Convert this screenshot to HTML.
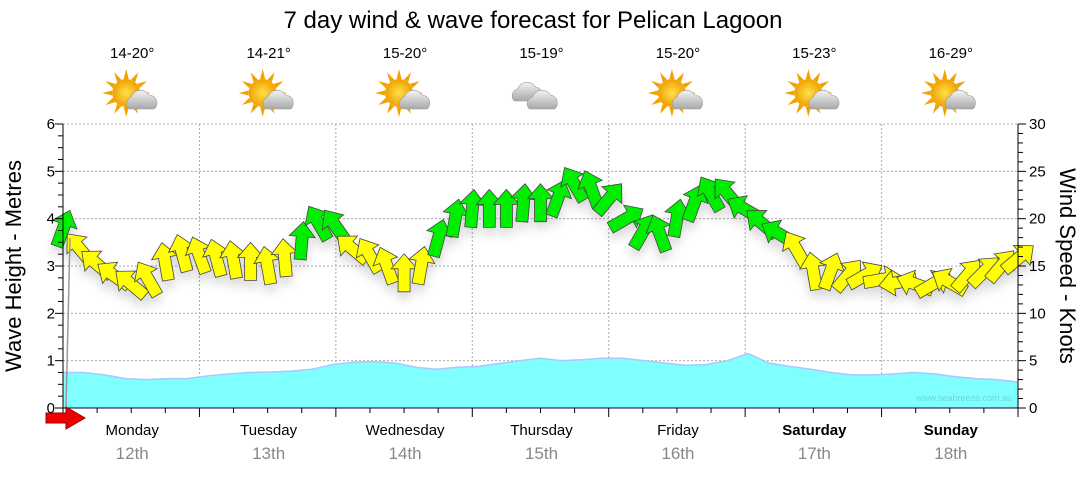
<!DOCTYPE html>
<html><head><meta charset="utf-8">
<style>
body{margin:0;background:#fff;font-family:"Liberation Sans",sans-serif;}
svg text{font-family:"Liberation Sans",sans-serif;}
</style></head><body>
<svg id="c" width="1080" height="475">
<defs>
<filter id="sh" x="-20%" y="-20%" width="140%" height="160%"><feDropShadow dx="0" dy="7" stdDeviation="5" flood-color="#000" flood-opacity="0.15"/></filter>
<radialGradient id="sun" cx="50%" cy="50%" r="50%"><stop offset="0" stop-color="#ffe14a"/><stop offset="1" stop-color="#f0a000"/></radialGradient>
<linearGradient id="cl" x1="0" y1="0" x2="0" y2="1"><stop offset="0" stop-color="#f4f4f4"/><stop offset="1" stop-color="#a8a8a8"/></linearGradient>
</defs>
<text x="533" y="28" font-size="24" text-anchor="middle">7 day wind &amp; wave forecast for Pelican Lagoon</text>
<g id="grid"></g>
<g id="wave"></g>
<g id="arrows" filter="url(#sh)"></g>
<g id="axes"></g>
<g id="icons"></g>
<text x="1012" y="401" font-size="9" fill="#6cd6d6" text-anchor="end">www.seabreeze.com.au</text>
<text transform="translate(21,266) rotate(-90)" font-size="22" text-anchor="middle">Wave Height - Metres</text>
<text transform="translate(1060,266) rotate(90)" font-size="22" text-anchor="middle">Wind Speed - Knots</text>
<line x1="70" y1="238" x2="66" y2="408" stroke="#999" stroke-width="1.5"/>
<polygon points="46,413 66,413 66,407 85,418 66,429 66,423 46,423" fill="#e00" stroke="#900" stroke-width="1"/>
</svg>
<script>
const days=["Monday","Tuesday","Wednesday","Thursday","Friday","Saturday","Sunday"];
const dates=["12th","13th","14th","15th","16th","17th","18th"];
const temps=["14-20°","14-21°","15-20°","15-19°","15-20°","15-23°","16-29°"];
const sunny=[1,1,1,0,1,1,1];
const waveH=[0.75,0.75,0.7,0.62,0.6,0.62,0.62,0.68,0.72,0.75,0.76,0.78,0.82,0.92,0.97,0.98,0.95,0.86,0.82,0.86,0.88,0.94,1.0,1.05,1.0,1.02,1.05,1.05,1.0,0.95,0.9,0.92,1.0,1.15,0.95,0.88,0.82,0.75,0.7,0.7,0.72,0.75,0.72,0.66,0.62,0.6,0.55];
const windKn=[19.3,17.2,15.6,14.4,13.5,14,15.8,16.7,16.5,16.2,16,15.8,15.4,16.2,18,19.9,19.6,17.2,16.5,15.4,14.6,15.4,18.3,20.4,21.4,21.4,21.4,22,22,22.5,24,23.5,22.5,20.4,19,18.8,20.4,22,23,23,21.4,19.9,18.8,17.2,14.8,14.8,14.4,14.4,14,13.7,13.5,13.5,13.7,14.4,14.8,15.4,16.2];
const windDir=[20,320,310,305,310,330,350,345,340,345,350,0,350,355,5,330,325,310,330,340,0,10,15,10,5,0,0,5,0,20,330,340,40,60,30,340,10,20,330,320,300,310,300,330,350,20,40,60,80,260,290,60,300,40,45,40,50];
const X0=63,X1=1018,Y0=408,Y1=124;
const xDay=d=>X0+d*(X1-X0)/7;
const yM=v=>Y0-v*(Y0-Y1)/6;
const yK=v=>Y0-v*(Y0-Y1)/30;
const NS="http://www.w3.org/2000/svg";
function mk(p,t,a){const e=document.createElementNS(NS,t);for(const k in a)e.setAttribute(k,a[k]);p.appendChild(e);return e;}
const grid=document.getElementById('grid'),axes=document.getElementById('axes');
for(let m=1;m<=6;m++){const g=mk(grid,'line',{x1:X0,x2:X1,y1:yM(m),y2:yM(m),stroke:'#aaa','stroke-dasharray':'2,2'});

}
for(let d=1;d<7;d++){const g=mk(grid,'line',{x1:xDay(d),x2:xDay(d),y1:Y1,y2:Y0,stroke:'#aaa','stroke-dasharray':'2,2'});

}
const wg=document.getElementById('wave');
let pts=waveH.map((v,i)=>[X0+i*(X1-X0)/(waveH.length-1),yM(v)]);
let d='M'+X0+','+Y0+' '+pts.map(p=>'L'+p[0].toFixed(1)+','+p[1].toFixed(1)).join(' ')+' L'+X1+','+Y0+' Z';
const wa=mk(wg,'path',{d:d,fill:'#80ffff',stroke:'none'});


const wl=mk(wg,'polyline',{points:pts.map(p=>p.join(',')).join(' '),fill:'none',stroke:'#a8c8ff','stroke-width':1.5});


const ag=document.getElementById('arrows');
windKn.forEach((k,i)=>{const x=X0+i*(X1-X0)/(windKn.length-1),y=yK(k);
const a=mk(ag,'polygon',{points:'0,-20 13,-5 6,-5 6,18 -6,18 -6,-5 -13,-5',fill:k>=17.8?'#00ee00':'#ffff00',stroke:'#444','stroke-width':0.8,transform:`translate(${x.toFixed(1)},${(y+4).toFixed(1)}) rotate(${windDir[i]})`});

});
mk(axes,'line',{x1:X0,x2:X0,y1:Y1,y2:Y0+1,stroke:'#000'});
mk(axes,'line',{x1:X1,x2:X1,y1:Y1,y2:Y0+1,stroke:'#000'});
mk(axes,'line',{x1:X0,x2:X1,y1:Y0,y2:Y0,stroke:'#003'});
for(let i=0;i<=24;i++){const y=yM(i/4);mk(axes,'line',{x1:X0-(i%4?5:8),x2:X0,y1:y,y2:y,stroke:'#000'});
if(i%4==0){const t=mk(axes,'text',{x:X0-8,y:y+5,'font-size':15,'text-anchor':'end'});t.textContent=i/4;

}}
for(let k=0;k<=30;k++){const y=yK(k);mk(axes,'line',{x1:X1,x2:X1+(k%5?5:8),y1:y,y2:y,stroke:'#000'});
if(k%5==0){const t=mk(axes,'text',{x:X1+11,y:y+5,'font-size':15});t.textContent=k;

}}
for(let i=0;i<=28;i++){const x=X0+i*(X1-X0)/28;mk(axes,'line',{x1:x,x2:x,y1:Y0,y2:Y0+(i%4?5:9),stroke:'#000'});}
const ic=document.getElementById('icons');
days.forEach((dn,i)=>{const cx=(xDay(i)+xDay(i+1))/2+1;
const t=mk(axes,'text',{x:cx,y:435,'font-size':15,'text-anchor':'middle','font-weight':i>=5?'bold':'normal'});t.textContent=dn;


const t2=mk(axes,'text',{x:cx,y:459,'font-size':17,'text-anchor':'middle',fill:'#888'});t2.textContent=dates[i];


const t3=mk(ic,'text',{x:cx,y:58,'font-size':15,'text-anchor':'middle'});t3.textContent=temps[i];


const g=mk(ic,'g',{transform:`translate(${cx},95)`});


if(sunny[i]){for(let r=0;r<12;r++)mk(g,'polygon',{points:'-2.5,-14 0,-24 2.5,-14',fill:'#f2a100',transform:`translate(-6,-2) rotate(${r*30})`});
mk(g,'circle',{cx:-6,cy:-2,r:14,fill:'url(#sun)'});
mk(g,'path',{d:'M-3,14 a7,7 0 0 1 2,-12 a10,10 0 0 1 18,-2 a8,8 0 0 1 5,14 z',fill:'url(#cl)',stroke:'#999','stroke-width':0.6});}
else{mk(g,'path',{d:'M-27,6 a7,7 0 0 1 3,-12 a10,10 0 0 1 18,-2 a8,8 0 0 1 4,14 z',fill:'url(#cl)',stroke:'#999','stroke-width':0.6});
mk(g,'path',{d:'M-12,14 a7,7 0 0 1 3,-12 a10,10 0 0 1 18,-2 a8,8 0 0 1 4,14 z',fill:'url(#cl)',stroke:'#999','stroke-width':0.6});}
});
</script>
</body></html>
